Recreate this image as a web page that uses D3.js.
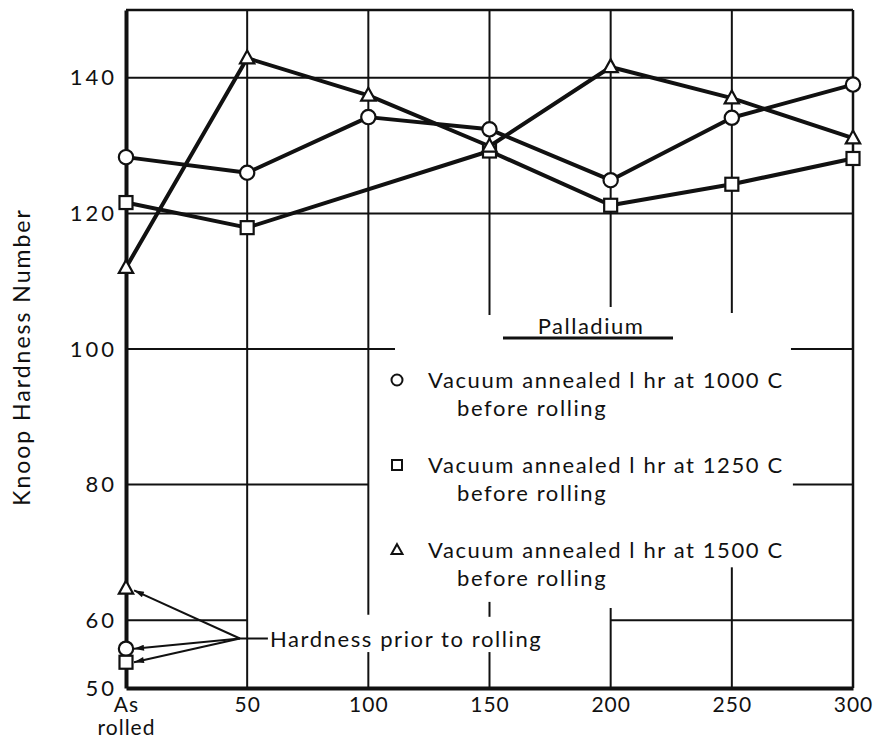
<!DOCTYPE html>
<html>
<head>
<meta charset="utf-8">
<script src="https://cdn.jsdelivr.net/npm/d3@7"></script>
<style>
  body { margin: 0; background: #fff; }
  text { font-family: Lato, "Open Sans", sans-serif; fill: #111; }
</style>
</head>
<body>
<svg id="chart"></svg>
<script>
// data
var xTicks = [0, 50, 100, 150, 200, 250, 300]
var yTicks = [50, 60, 80, 100, 120, 140]

var circleX = [0, 50, 100, 150, 200, 250, 300]
var circleY = [128.3, 126.0, 134.2, 132.4, 124.9, 134.1, 139.0]

var squareX = [0, 50, 150, 200, 250, 300]
var squareY = [121.6, 117.9, 129.2, 121.2, 124.3, 128.1]

var triangleX = [0, 50, 100, 150, 200, 250, 300]
var triangleY = [112.0, 142.9, 137.4, 129.9, 141.6, 137.0, 131.1]

// hardness prior to rolling (plotted at "As rolled")
var priorShape = ["triangle", "circle", "square"]
var priorY = [64.7, 55.8, 53.8]

var legendLabels = [
  ["Vacuum annealed l hr at 1000 C", "before rolling"],
  ["Vacuum annealed l hr at 1250 C", "before rolling"],
  ["Vacuum annealed l hr at 1500 C", "before rolling"]
]
var legendShapes = ["circle", "square", "triangle"]

// grid segments, in data units, with the gaps that the original leaves round the text
var hGrid = [[140, 0, 300], [120, 0, 300], [100, 0, 111], [100, 274.4, 300],
             [80, 0, 100], [80, 275.2, 300], [60, 0, 50], [60, 200, 300]]
var vGrid = [[50, 50, 150], [100, 60.8, 150], [100, 50, 55.3],
             [150, 105, 150], [150, 60.5, 62.7], [150, 50, 55.3],
             [200, 106.2, 150], [200, 50, 61.8],
             [250, 105.3, 150], [250, 50, 67.8]]

var dimensions = {
  width: 874,
  height: 745,
  margin: { top: 10, right: 21, bottom: 57, left: 126 }
}

var svg = d3.select("#chart")
  .attr("width", dimensions.width)
  .attr("height", dimensions.height)

var x = d3.scaleLinear().domain([0, 300])
  .range([dimensions.margin.left, dimensions.width - dimensions.margin.right])
var y = d3.scaleLinear().domain([50, 150])
  .range([dimensions.height - dimensions.margin.bottom, dimensions.margin.top])

// grid
svg.append("g").selectAll("line").data(hGrid).enter().append("line")
  .attr("x1", d => x(d[1])).attr("x2", d => x(d[2]))
  .attr("y1", d => y(d[0])).attr("y2", d => y(d[0]))
  .attr("stroke", "#111").attr("stroke-width", 2)
svg.append("g").selectAll("line").data(vGrid).enter().append("line")
  .attr("x1", d => x(d[0])).attr("x2", d => x(d[0]))
  .attr("y1", d => y(d[1])).attr("y2", d => y(d[2]))
  .attr("stroke", "#111").attr("stroke-width", 2)

// frame: top and right thinner, left and bottom heavy
svg.append("line").attr("x1", x(0)).attr("x2", x(300)).attr("y1", y(150)).attr("y2", y(150))
  .attr("stroke", "#111").attr("stroke-width", 2.5)
svg.append("line").attr("x1", x(300)).attr("x2", x(300)).attr("y1", y(150)).attr("y2", y(50))
  .attr("stroke", "#111").attr("stroke-width", 2.5)

// axes
var yAxis = svg.append("g")
  .attr("transform", "translate(" + x(0) + ",0)")
  .call(d3.axisLeft(y).tickValues(yTicks).tickSize(0).tickPadding(9))
yAxis.select(".domain").attr("stroke", "#111").attr("stroke-width", 4)
yAxis.selectAll("text").style("font-size", "22px").attr("letter-spacing", "3px")
  .attr("fill", "#111")

var xAxis = svg.append("g")
  .attr("transform", "translate(0," + y(50) + ")")
  .call(d3.axisBottom(x).tickValues(xTicks).tickSize(0).tickPadding(9)
    .tickFormat(d => d === 0 ? "As" : d))
xAxis.select(".domain").attr("stroke", "#111").attr("stroke-width", 4)
xAxis.selectAll("text").style("font-size", "21px").attr("letter-spacing", "1px").attr("fill", "#111")
xAxis.selectAll(".tick").filter(d => d === 0).select("text")
  .append("tspan").attr("x", 0).attr("dy", "1.1em").text("rolled")

svg.append("text")
  .attr("transform", "translate(30,357) rotate(-90)")
  .attr("text-anchor", "middle")
  .attr("letter-spacing", "2px")
  .style("font-size", "23px")
  .text("Knoop Hardness Number")

// markers
function marker(sel, shape, cx, cy, s) {
  if (shape === "circle") {
    sel.append("circle").attr("cx", cx).attr("cy", cy).attr("r", s * 0.55)
  } else if (shape === "square") {
    sel.append("rect").attr("x", cx - s / 2).attr("y", cy - s / 2).attr("width", s).attr("height", s)
  } else {
    var h = s * 0.9
    sel.append("path").attr("d", "M" + cx + "," + (cy - h * 0.65) + "L" + (cx + s * 0.55) + "," + (cy + h * 0.45)
      + "L" + (cx - s * 0.55) + "," + (cy + h * 0.45) + "Z")
  }
}

var line = d3.line().x(d => x(d[0])).y(d => y(d[1]))
var series = [
  { shape: "square", xs: squareX, ys: squareY },
  { shape: "circle", xs: circleX, ys: circleY },
  { shape: "triangle", xs: triangleX, ys: triangleY }
]
series.forEach(s => {
  var pts = s.xs.map((v, i) => [v, s.ys[i]])
  svg.append("path").datum(pts).attr("d", line)
    .attr("fill", "none").attr("stroke", "#111").attr("stroke-width", 4)
    .attr("stroke-linejoin", "round")
})
series.forEach(s => {
  var g = svg.append("g").attr("fill", "#fff").attr("stroke", "#111").attr("stroke-width", 2.2)
  s.xs.forEach((v, i) => marker(g, s.shape, x(v), y(s.ys[i]), 13))
})

// prior-to-rolling points and arrows
svg.append("defs").append("marker")
  .attr("id", "head").attr("viewBox", "0 0 10 6").attr("refX", 10).attr("refY", 3)
  .attr("markerWidth", 11).attr("markerHeight", 6).attr("markerUnits", "userSpaceOnUse")
  .attr("orient", "auto")
  .append("path").attr("d", "M0,0L10,3L0,6Z").attr("fill", "#111")

var hub = [x(47), y(57.3)]
var pg = svg.append("g").attr("fill", "#fff").attr("stroke", "#111").attr("stroke-width", 2.2)
priorShape.forEach((shape, i) => {
  marker(pg, shape, x(0), y(priorY[i]), 13)
})
priorShape.forEach((shape, i) => {
  svg.append("line")
    .attr("x1", hub[0]).attr("y1", hub[1])
    .attr("x2", x(0) + 8).attr("y2", y(priorY[i]) + (i === 0 ? 2 : 0))
    .attr("stroke", "#111").attr("stroke-width", 2)
    .attr("marker-end", "url(#head)")
})
svg.append("line").attr("x1", hub[0]).attr("x2", hub[0] + 28)
  .attr("y1", hub[1]).attr("y2", hub[1]).attr("stroke", "#111").attr("stroke-width", 2)
svg.append("text").attr("x", hub[0] + 30).attr("y", hub[1] + 8)
  .attr("letter-spacing", "1.6px")
  .style("font-size", "22px").text("Hardness prior to rolling")

// legend
var lg = svg.append("g")
lg.append("text").attr("x", 591).attr("y", 334).attr("text-anchor", "middle")
  .attr("letter-spacing", "1.5px")
  .style("font-size", "22px").text("Palladium")
lg.append("line").attr("x1", 503).attr("x2", 673).attr("y1", 338).attr("y2", 338)
  .attr("stroke", "#111").attr("stroke-width", 3)
legendLabels.forEach((lab, i) => {
  var ty = 388 + i * 85
  var mg = lg.append("g").attr("fill", "#fff").attr("stroke", "#111").attr("stroke-width", 2)
  marker(mg, legendShapes[i], 397, ty - 8, 10)
  lg.append("text").attr("x", 428).attr("y", ty).attr("letter-spacing", "1.6px")
    .style("font-size", "22px").text(lab[0])
  lg.append("text").attr("x", 457).attr("y", ty + 28).attr("letter-spacing", "1.6px")
    .style("font-size", "22px").text(lab[1])
})
</script>
</body>
</html>
